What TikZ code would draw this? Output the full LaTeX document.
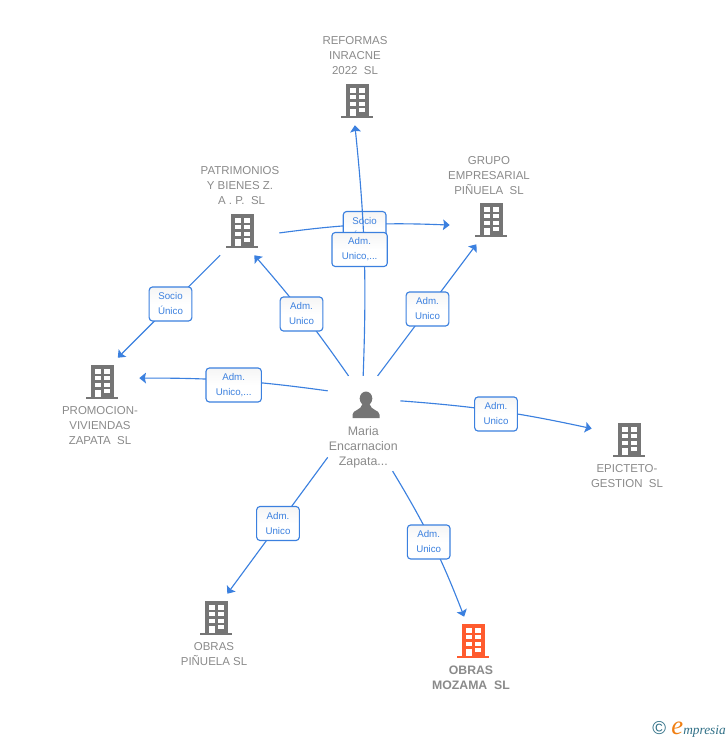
\documentclass[tikz,border=0pt]{standalone}
\usepackage{fontspec}
\setmainfont{Liberation Sans}
\newfontfamily\wmfont{Liberation Serif}
\usepackage{tikz}
\usetikzlibrary{arrows.meta,positioning}
\definecolor{linkblue}{HTML}{3B80DF}
\definecolor{iconamber}{HTML}{FF5B2E}
\definecolor{icongray}{HTML}{757575}
\definecolor{textgray}{HTML}{8A8A8A}
\definecolor{wmteal}{HTML}{2F6F86}
\definecolor{wmorange}{HTML}{F07F13}

\tikzset{
  bldg/.pic={
    \fill[pic actions] (-11.5,-17) rectangle (11.5,14.5);
    \fill[pic actions] (-16,14.5) rectangle (16,17);
    \foreach \py in {-10.7,-4,2.7}{
      \fill[white] (-7.5,\py-2.2) rectangle (-1.5,\py+2.2);
      \fill[white] (2,\py-2.2) rectangle (8,\py+2.2);
    }
    \fill[white] (2,6.8) rectangle (8,11.2);
    \fill[white] (-7.5,7.5) rectangle (-1.5,14.5);
  },
  silhouette/.pic={
    \fill[pic actions] (0,-6.5) circle[x radius=6.3,y radius=7];
    \fill[pic actions] (-13.5,13) -- (-13.5,9.5) .. controls (-13.5,5) and (-5,5.5) .. (-3.5,-1)
      -- (3.5,-1) .. controls (5,5.5) and (13.5,5) .. (13.5,9.5) -- (13.5,13) -- cycle;
  }
}

\begin{document}
\begin{tikzpicture}[x=0.75pt,y=-0.75pt,
  firm/.style={rectangle, minimum width=55.5pt, minimum height=36pt, inner sep=0pt},
  lbl/.style={inner sep=0pt, align=center, text=textgray, xshift=-1.5pt,
              font=\fontsize{8.6}{11.25}\selectfont},
  tag/.style={rectangle, draw=linkblue, rounded corners=2.5pt, line width=0.85pt,
              minimum width=32pt, minimum height=25.5pt, inner sep=0pt, align=center,
              text=linkblue, top color=gray!8, bottom color=white, middle color=white,
              font=\fontsize{7.3}{11.25}\selectfont},
  arr/.style={-{Stealth[length=5pt,width=8pt,inset=0.8pt]}, draw=linkblue, line width=0.85pt},
  node distance=0pt,
]
  \useasboundingbox (0,0) rectangle (728,740);

  % companies
  \node[firm] (reformas) at (357,101) {};
  \node[firm] (patrimonios) at (242,231) {};
  \node[firm, minimum width=61.5pt] (grupo) at (491,220) {};
  \node[firm] (promocion) at (102,382) {};
  \node[firm] (epicteto) at (629,440) {};
  \node[firm] (pinuela) at (216,618) {};
  \node[firm] (mozama) at (473,641) {};
  \foreach \fname in {reformas,patrimonios,grupo,promocion,epicteto,pinuela}
    \pic[fill=icongray] at (\fname) {bldg};
  \pic[fill=iconamber] at (mozama) {bldg};

  \node[lbl, above=1.5pt of reformas] (reformaslbl) {REFORMAS\\INRACNE\\2022~~SL};
  \node[lbl, above=1.5pt of patrimonios] (patrimonioslbl) {PATRIMONIOS\\Y BIENES Z.\\~A . P.~~SL};
  \node[lbl, above=1pt of grupo] (grupolbl) {GRUPO\\EMPRESARIAL\\PIÑUELA~~SL};
  \node[lbl, below=of promocion] (promocionlbl) {PROMOCION-\\VIVIENDAS\\ZAPATA~~SL};
  \node[lbl, below=of epicteto] (epictetolbl) {EPICTETO-\\GESTION~~SL};
  \node[lbl, below=of pinuela] (pinuelalbl) {OBRAS\\PIÑUELA SL};
  \node[lbl, below=of mozama, font=\bfseries\fontsize{9.2}{11.25}\selectfont] (mozamalbl) {OBRAS\\MOZAMA~~SL};

  % person
  \node[rectangle, minimum width=54pt, minimum height=71pt, inner sep=0pt] (maria) at (364,423.5) {};
  \pic[fill=icongray] at (366,405) {silhouette};
  \node[lbl, above=2pt of maria.south, xshift=1pt, font=\fontsize{9.3}{11.25}\selectfont] (marialbl) {Maria\\Encarnacion\\Zapata...};

  % links
  \draw[arr] (patrimonios.-3) to[bend left=5] (grupo.187);
  \node[tag] (socioa) at (364.6,228.5) {Socio\\Único};
  \draw[arr] (maria.91) to[bend right=4] (reformas.-95);
  \draw[arr] (maria.108) to[bend right=3] (patrimonios.-63);
  \draw[arr] (maria.74) -- (grupo.239);
  \draw[arr] (maria.138) to[bend right=4] (promocion.6);
  \draw[arr] (maria.32) to[bend left=4] (epicteto.163);
  \draw[arr] (maria.223) -- (pinuela.65);
  \draw[arr] (maria.-59) to[bend left=5] (mozama.110);
  \draw[arr] (patrimonios.-132) -- (promocion.57);

  \node[tag] (sociob) at (170.5,304) {Socio\\Único};
  \node[tag] (admb) at (301.5,314) {Adm.\\Unico};
  \node[tag, minimum width=41.5pt] (admc) at (359.6,249.5) {Adm.\\Unico,...};
  \node[tag] (admd) at (427.5,309) {Adm.\\Unico};
  \node[tag, minimum width=41.5pt] (adme) at (233.7,385) {Adm.\\Unico,...};
  \node[tag] (admf) at (496,414) {Adm.\\Unico};
  \node[tag] (admg) at (428.7,542) {Adm.\\Unico};
  \node[tag] (admh) at (278,523.5) {Adm.\\Unico};

  % watermark
  \node[inner sep=0pt, anchor=east] (wm) at (726,729.5)
    {\textcolor{wmteal}{\fontsize{14}{14}\selectfont ©}\hspace{4pt}{\wmfont\itshape\fontsize{10}{10}\selectfont\textcolor{wmorange}{\fontsize{20}{10}\selectfont e}\textcolor{wmteal}{mpresia}}};
\end{tikzpicture}
\end{document}
